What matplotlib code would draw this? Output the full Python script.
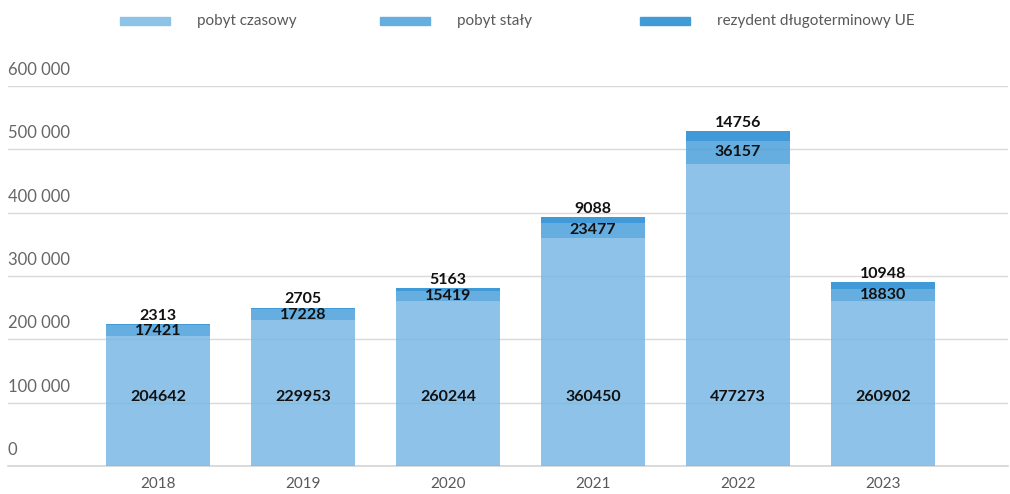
import matplotlib.pyplot as plt
from matplotlib.patches import Rectangle
import numpy as np

# Dane
lata = ['2018', '2019', '2020', '2021', '2022', '2023']
pobyt_czasowy = [204642, 229953, 260244, 360450, 477273, 260902]
pobyt_staly = [17421, 17228, 15419, 23477, 36157, 18830]
rezydent_ue = [2313, 2705, 5163, 9088, 14756, 10948]
serie = ['pobyt czasowy', 'pobyt stały', 'rezydent długoterminowy UE']
kolory_legendy = ['#8ec3e8', '#64aee0', '#409bd6']
kolory_slupkow = ['#7ab8e4', '#4aa0da', '#1e89d0']
y_ticks = [0, 100000, 200000, 300000, 400000, 500000, 600000]

W, H = 1010, 494
fig = plt.figure(figsize=(W / 100, H / 100), dpi=100)
ax = fig.add_axes([8 / W, (H - 466) / H, 1000 / W, 380 / H])

x = np.arange(len(lata))
dane = [pobyt_czasowy, pobyt_staly, rezydent_ue]
dol = np.zeros(len(lata))
for i, wart in enumerate(dane):
    ax.bar(x, wart, width=0.72, bottom=dol, color=kolory_slupkow[i], alpha=0.85,
           linewidth=0, zorder=2)
    for xi, b, v in zip(x, dol, wart):
        if i == 0:
            # etykiety dolnej serii na stałej wysokości nad podstawą
            ax.annotate(str(v), xy=(xi, b), xytext=(0, 49.5), textcoords='offset points',
                        ha='center', va='center', fontsize=11.5, fontweight='bold',
                        family='Lato', color='#111111', zorder=3)
        elif i == 1:
            ax.text(xi, b + v / 2, str(v), ha='center', va='center', fontsize=11.5,
                    fontweight='bold', family='Lato', color='#111111', zorder=3)
        else:
            ax.annotate(str(v), xy=(xi, b + v), xytext=(0, 1), textcoords='offset points',
                        ha='center', va='bottom', fontsize=11.5, fontweight='bold',
                        family='Lato', color='#111111', zorder=3)
    dol = dol + np.array(wart)

ax.set_xlim(-1.034, 5.862)
ax.set_ylim(0, 600000)
for s in ax.spines.values():
    s.set_visible(False)
ax.set_yticks(y_ticks)
ax.set_yticklabels([])
ax.tick_params(axis='y', length=0)
ax.grid(axis='y', color='#d9d9d9', linewidth=1, zorder=1)
ax.axhline(0, color='#d4d4d4', linewidth=1.2, clip_on=False, zorder=1)
ax.set_axisbelow(True)

# Etykiety osi Y nad liniami siatki
trans = ax.get_yaxis_transform()
for t in y_ticks:
    lab = f"{t:,}".replace(',', ' ')
    ax.annotate(lab, xy=(0, t), xycoords=trans, xytext=(0, 8), textcoords='offset points',
                ha='left', va='baseline', fontsize=12, family='Lato',
                color='#666666')

ax.set_xticks(x)
ax.set_xticklabels(lata, fontsize=11, family='Lato', color='#595959')
ax.tick_params(axis='x', length=0, pad=8)

# Legenda
for i, nazwa in enumerate(serie):
    x0 = 120 + 260 * i
    fig.patches.append(Rectangle((x0 / W, (H - 25) / H), 50 / W, 8 / H,
                                 transform=fig.transFigure, color=kolory_legendy[i]))
    fig.text((x0 + 77) / W, (H - 21) / H, nazwa, ha='left', va='center', fontsize=11,
             family='Lato', color='#595959')

fig.savefig('out.png', dpi=100)
